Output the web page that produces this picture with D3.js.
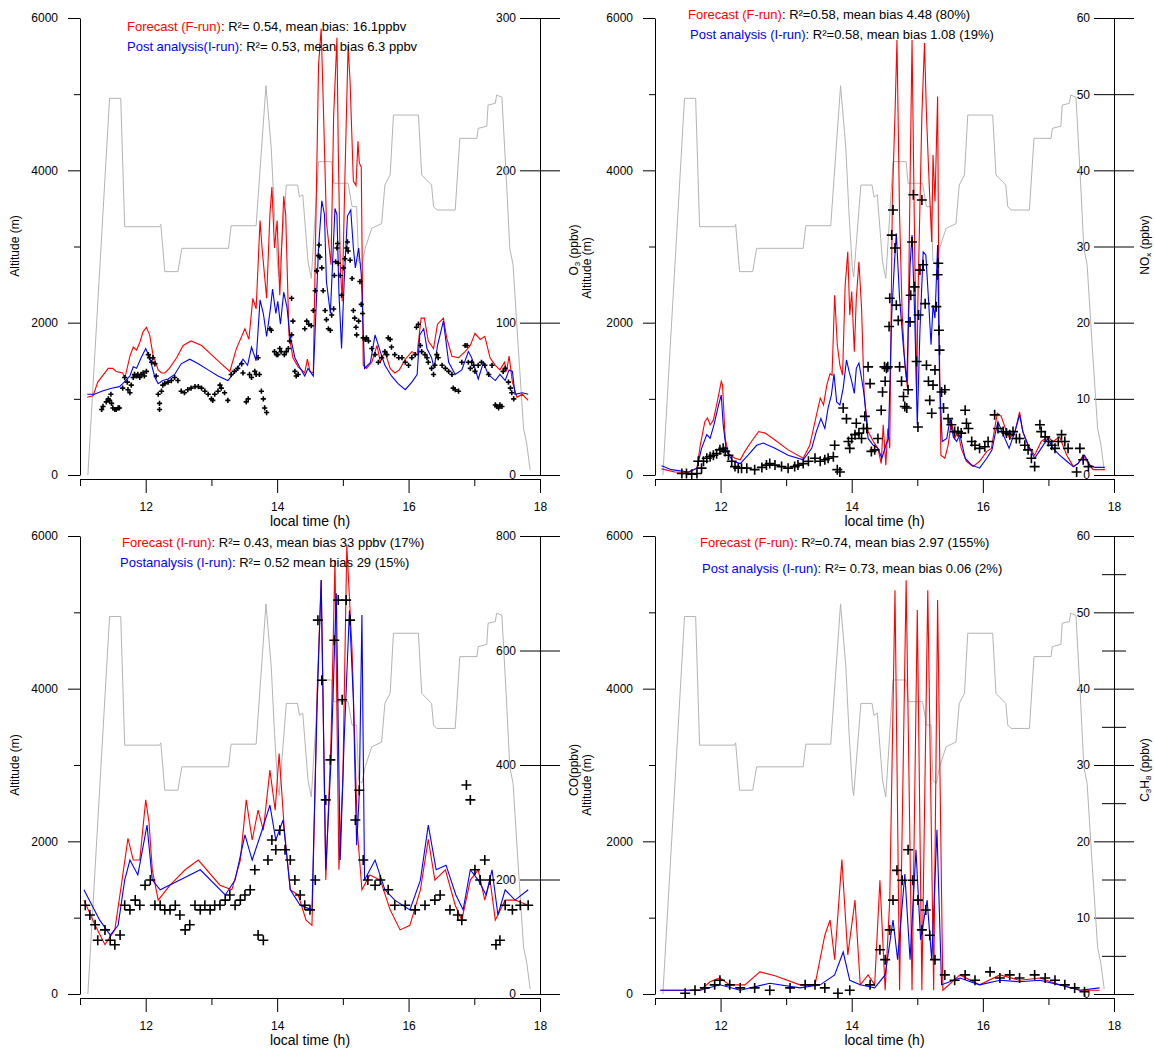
<!DOCTYPE html>
<html>
<head>
<meta charset="utf-8">
<script src="https://cdn.jsdelivr.net/npm/d3@7/dist/d3.min.js"></script>
<style>
  html, body { margin: 0; padding: 0; background: #fff; }
  svg { display: block; font-family: "Liberation Sans", Arial, sans-serif; }
  .tick text { font-size: 12px; fill: #000; }
</style>
</head>
<body>
<svg id="chart" width="1154" height="1051"></svg>
<script>
// Flight altitude profile (local time h, altitude m) shared by all four panels
const altitude = [[11.12,0],[11.45,4945],[11.62,4945],[11.68,3260],[12.21,3260],[12.23,3290],[12.29,2670],[12.49,2670],[12.55,2976],[13.26,2976],[13.30,3273],[13.68,3273],[13.83,5111],[13.91,4293],[13.96,3413],[14.01,2717],[14.03,2600],[14.14,3807],[14.31,3807],[14.34,3650],[14.39,3680],[14.47,2800],[14.52,2582],[14.63,4114],[14.83,4114],[14.86,3830],[15.08,3830],[15.14,3523],[15.21,3523],[15.24,2800],[15.29,2760],[15.34,2976],[15.44,3239],[15.59,3300],[15.64,3807],[15.72,3940],[15.77,4726],[16.15,4726],[16.20,3939],[16.35,3807],[16.38,3523],[16.43,3479],[16.71,3479],[16.78,4420],[17.04,4420],[17.06,4551],[17.19,4580],[17.21,4857],[17.32,4880],[17.34,4989],[17.42,4960],[17.49,3851],[17.54,2976],[17.59,2760],[17.67,1663],[17.75,613],[17.80,400],[17.85,66]];

// O3 (ppbv)
const o3Forecast = [[11.11,51],[11.20,52],[11.27,61],[11.43,70],[11.50,70],[11.55,68],[11.65,67],[11.68,63],[11.76,78],[11.81,84],[11.86,82],[11.91,87],[11.96,94],[12.01,97],[12.06,92],[12.11,79],[12.19,69],[12.24,67],[12.29,67],[12.36,70],[12.47,77],[12.57,85],[12.69,88],[12.85,85],[13.00,79],[13.15,73],[13.28,68],[13.38,83],[13.51,96],[13.57,89],[13.63,116],[13.68,109],[13.74,167],[13.77,149],[13.84,116],[13.89,171],[13.92,189],[13.96,149],[14.00,167],[14.04,118],[14.10,183],[14.13,171],[14.18,92],[14.24,77],[14.32,71],[14.42,67],[14.46,76],[14.50,68],[14.55,67],[14.63,269],[14.67,293],[14.70,247],[14.75,166],[14.82,138],[14.86,236],[14.91,287],[14.93,214],[14.96,138],[14.99,114],[15.03,193],[15.08,282],[15.11,258],[15.16,193],[15.20,190],[15.23,219],[15.25,205],[15.28,202],[15.31,72],[15.36,70],[15.44,74],[15.52,85],[15.57,74],[15.64,81],[15.72,70],[15.79,67],[15.86,69],[15.95,76],[16.05,81],[16.13,79],[16.19,103],[16.24,103],[16.30,88],[16.38,83],[16.44,99],[16.53,103],[16.58,90],[16.66,78],[16.76,77],[16.86,81],[16.94,85],[17.01,93],[17.09,89],[17.16,91],[17.24,77],[17.32,72],[17.39,69],[17.46,74],[17.49,68],[17.53,78],[17.58,61],[17.65,51],[17.73,53],[17.82,49]];
const o3Analysis = [[11.11,53],[11.22,53],[11.33,55],[11.48,57],[11.60,58],[11.65,60],[11.76,65],[11.81,71],[11.86,70],[11.93,77],[12.00,83],[12.06,77],[12.14,64],[12.19,60],[12.26,62],[12.34,63],[12.44,66],[12.54,73],[12.67,76],[12.80,73],[12.95,69],[13.10,65],[13.25,62],[13.38,69],[13.48,76],[13.55,72],[13.61,84],[13.68,75],[13.74,115],[13.79,106],[13.84,91],[13.90,110],[13.93,122],[13.98,106],[14.01,114],[14.05,99],[14.10,120],[14.15,110],[14.19,93],[14.27,77],[14.34,71],[14.42,65],[14.47,70],[14.55,65],[14.63,149],[14.68,180],[14.72,171],[14.75,127],[14.81,106],[14.88,175],[14.91,171],[14.94,120],[14.98,83],[15.02,127],[15.07,170],[15.12,174],[15.16,149],[15.19,136],[15.24,149],[15.28,132],[15.33,70],[15.42,74],[15.49,92],[15.57,81],[15.64,72],[15.74,65],[15.84,60],[15.95,56],[16.05,61],[16.13,66],[16.17,92],[16.23,96],[16.28,83],[16.35,77],[16.39,70],[16.44,85],[16.53,101],[16.61,74],[16.71,66],[16.81,69],[16.91,81],[16.96,77],[17.06,63],[17.14,74],[17.21,66],[17.32,62],[17.39,66],[17.47,62],[17.53,69],[17.58,68],[17.62,53],[17.73,54],[17.82,53]];
const o3Observed = [[11.33,43],[11.35,45],[11.40,48],[11.43,50],[11.45,49],[11.47,53],[11.48,47],[11.50,44],[11.53,43],[11.55,43],[11.58,44],[11.60,44],[11.65,57],[11.68,64],[11.72,61],[11.73,56],[11.76,54],[11.78,59],[11.81,64],[11.83,66],[11.86,65],[11.88,66],[11.91,64],[11.93,66],[11.96,67],[11.98,65],[12.01,68],[12.04,79],[12.06,77],[12.09,74],[12.11,77],[12.14,73],[12.16,65],[12.19,53],[12.21,47],[12.21,43],[12.24,55],[12.26,59],[12.29,60],[12.34,61],[12.39,62],[12.44,64],[12.49,62],[12.54,55],[12.59,54],[12.64,56],[12.69,57],[12.75,58],[12.80,58],[12.85,57],[12.90,55],[12.95,53],[13.00,50],[13.02,49],[13.05,53],[13.10,55],[13.13,59],[13.15,57],[13.20,54],[13.25,49],[13.30,66],[13.35,68],[13.40,70],[13.46,73],[13.48,67],[13.53,48],[13.56,50],[13.58,66],[13.61,64],[13.66,68],[13.68,66],[13.71,77],[13.73,66],[13.76,55],[13.79,50],[13.81,44],[13.84,41],[13.89,96],[13.91,95],[13.96,81],[13.99,79],[14.01,79],[14.04,83],[14.06,81],[14.11,79],[14.14,81],[14.17,83],[14.19,88],[14.22,92],[14.22,116],[14.24,101],[14.27,68],[14.29,65],[14.32,66],[14.42,96],[14.45,101],[14.48,99],[14.52,98],[14.55,108],[14.58,121],[14.60,134],[14.63,144],[14.64,151],[14.65,143],[14.68,136],[14.70,121],[14.73,108],[14.75,102],[14.78,96],[14.81,95],[14.83,105],[14.86,109],[14.87,131],[14.89,140],[14.91,149],[14.92,152],[14.93,139],[14.96,131],[14.98,118],[15.01,136],[15.03,142],[15.06,149],[15.07,153],[15.08,147],[15.11,141],[15.14,129],[15.16,108],[15.18,103],[15.20,97],[15.21,92],[15.24,101],[15.26,127],[15.28,112],[15.30,106],[15.31,90],[15.34,89],[15.36,90],[15.39,88],[15.44,83],[15.49,79],[15.54,74],[15.59,77],[15.64,81],[15.67,79],[15.69,90],[15.72,89],[15.74,84],[15.79,79],[15.85,77],[15.90,77],[15.95,74],[16.00,72],[16.05,77],[16.10,79],[16.12,97],[16.15,99],[16.18,85],[16.20,81],[16.25,79],[16.28,77],[16.30,74],[16.35,70],[16.38,66],[16.40,72],[16.43,79],[16.45,77],[16.51,72],[16.56,70],[16.61,68],[16.66,66],[16.68,57],[16.71,56],[16.76,55],[16.81,74],[16.86,85],[16.89,85],[16.91,74],[16.94,70],[16.96,74],[16.99,72],[17.01,68],[17.06,72],[17.11,74],[17.16,72],[17.22,66],[17.27,72],[17.32,46],[17.34,45],[17.37,44],[17.39,46],[17.42,45],[17.44,68],[17.47,70],[17.52,61],[17.55,57],[17.57,54],[17.60,50]];

// NOx (ppbv)
const noxForecast = [[11.10,0.8],[11.30,0.4],[11.51,0.35],[11.64,0.9],[11.69,3.9],[11.76,7.0],[11.80,7.5],[11.84,6.6],[11.89,7.2],[11.94,9.2],[11.98,10.9],[12.01,12.3],[12.03,11.8],[12.07,4.8],[12.12,2.8],[12.22,2.2],[12.30,2.0],[12.37,3.1],[12.47,4.4],[12.58,5.7],[12.68,5.5],[12.83,4.6],[13.03,3.3],[13.26,2.2],[13.36,3.9],[13.44,7.0],[13.52,10.1],[13.57,9.2],[13.62,11.8],[13.67,13.3],[13.70,13.1],[13.74,23.6],[13.78,17.1],[13.82,14.4],[13.86,13.1],[13.90,24.9],[13.94,29.3],[13.97,21.0],[14.00,24.1],[14.04,16.2],[14.07,23.2],[14.11,28.0],[14.15,21.9],[14.19,10.5],[14.25,5.7],[14.33,4.4],[14.40,3.5],[14.45,1.5],[14.48,6.6],[14.52,1.3],[14.55,6.1],[14.58,3.5],[14.62,36.3],[14.66,47.3],[14.69,57.1],[14.73,34.1],[14.77,21.0],[14.81,14.4],[14.85,11.4],[14.89,38.5],[14.92,57.1],[14.95,36.3],[14.99,10.5],[15.01,23.2],[15.07,47.3],[15.11,56.7],[15.14,47.3],[15.18,38.5],[15.22,30.6],[15.24,42.0],[15.27,35.9],[15.31,49.7],[15.33,21.0],[15.36,2.6],[15.42,2.2],[15.47,3.9],[15.52,7.0],[15.57,4.8],[15.62,5.7],[15.67,3.5],[15.75,1.8],[15.85,1.1],[15.95,1.8],[16.06,3.1],[16.13,3.5],[16.18,6.1],[16.22,8.1],[16.28,7.7],[16.36,5.7],[16.41,4.8],[16.49,5.7],[16.56,8.3],[16.61,5.7],[16.69,3.9],[16.79,2.6],[16.89,4.4],[16.99,5.0],[17.07,4.4],[17.17,5.0],[17.28,2.6],[17.38,1.1],[17.45,1.5],[17.53,2.6],[17.61,1.5],[17.68,0.7],[17.86,0.7]];
const noxAnalysis = [[11.10,1.2],[11.25,0.7],[11.51,0.4],[11.64,0.9],[11.71,3.5],[11.79,5.3],[11.84,4.8],[11.90,6.6],[11.97,9.2],[12.01,10.5],[12.04,6.6],[12.09,3.1],[12.19,1.8],[12.30,1.5],[12.42,2.6],[12.55,3.9],[12.65,4.2],[12.83,3.5],[13.03,2.6],[13.26,2.0],[13.39,3.5],[13.46,5.7],[13.53,7.4],[13.59,6.1],[13.64,8.8],[13.69,10.5],[13.73,13.3],[13.77,9.6],[13.82,9.2],[13.87,11.4],[13.92,15.1],[13.96,13.6],[14.00,12.3],[14.04,10.7],[14.07,14.0],[14.11,14.7],[14.15,12.7],[14.19,10.5],[14.25,4.8],[14.33,3.9],[14.40,3.5],[14.46,2.2],[14.52,3.9],[14.56,4.8],[14.61,21.0],[14.65,27.6],[14.68,31.7],[14.73,23.2],[14.79,16.6],[14.84,12.3],[14.89,27.6],[14.92,31.5],[14.96,21.0],[15.00,6.6],[15.04,18.8],[15.09,29.3],[15.13,28.9],[15.17,23.2],[15.21,17.1],[15.24,22.3],[15.27,20.6],[15.31,30.2],[15.34,12.3],[15.38,4.4],[15.45,4.8],[15.50,7.4],[15.55,5.0],[15.60,4.4],[15.65,5.3],[15.73,2.2],[15.83,1.3],[15.95,0.9],[16.06,2.2],[16.14,3.3],[16.19,5.5],[16.23,7.0],[16.31,5.3],[16.40,3.5],[16.49,5.7],[16.56,7.9],[16.61,5.7],[16.69,3.9],[16.79,2.2],[16.89,3.5],[16.99,4.8],[17.07,3.5],[17.17,2.6],[17.28,1.8],[17.38,1.1],[17.45,1.5],[17.55,2.6],[17.63,1.3],[17.71,1.0],[17.86,1.0]];
const noxObserved = [[11.41,0.2],[11.48,0.2],[11.56,0.1],[11.64,0.2],[11.66,1.8],[11.71,0.9],[11.74,1.8],[11.79,2.2],[11.84,2.4],[11.89,2.6],[11.94,2.8],[11.99,3.3],[12.04,3.5],[12.07,3.1],[12.12,2.6],[12.17,1.8],[12.22,1.1],[12.27,0.9],[12.32,0.9],[12.40,0.9],[12.52,0.7],[12.63,1.0],[12.70,1.3],[12.75,1.5],[12.83,1.3],[12.93,1.1],[13.03,0.9],[13.13,1.1],[13.18,1.3],[13.26,1.5],[13.34,1.8],[13.44,2.2],[13.52,1.8],[13.59,2.0],[13.64,2.2],[13.72,2.4],[13.74,3.9],[13.78,0.7],[13.82,0.4],[13.87,8.8],[13.92,7.4],[13.95,4.4],[13.97,3.5],[14.00,4.8],[14.05,5.3],[14.07,6.8],[14.11,5.5],[14.15,4.8],[14.18,6.1],[14.20,7.7],[14.23,6.1],[14.25,14.2],[14.28,12.0],[14.30,3.1],[14.35,3.3],[14.40,4.8],[14.45,8.5],[14.47,10.9],[14.50,14.2],[14.51,12.3],[14.53,14.0],[14.55,14.2],[14.57,19.5],[14.58,23.2],[14.61,31.5],[14.63,34.8],[14.66,29.8],[14.68,22.3],[14.71,20.3],[14.73,14.2],[14.76,12.3],[14.79,10.3],[14.81,9.0],[14.84,8.8],[14.86,11.2],[14.89,20.1],[14.90,23.6],[14.92,30.6],[14.94,36.8],[14.96,24.7],[14.99,14.9],[15.01,6.3],[15.02,21.0],[15.04,26.9],[15.07,36.1],[15.09,27.6],[15.12,22.5],[15.14,14.4],[15.17,12.3],[15.19,9.8],[15.22,8.1],[15.24,11.8],[15.27,13.8],[15.29,22.1],[15.31,26.3],[15.32,27.8],[15.33,19.0],[15.34,16.4],[15.37,10.9],[15.40,8.8],[15.42,11.2],[15.47,7.4],[15.52,6.6],[15.57,5.7],[15.62,5.7],[15.67,5.5],[15.73,8.5],[15.75,6.8],[15.78,6.1],[15.83,4.4],[15.88,3.9],[15.95,3.5],[16.03,3.7],[16.08,4.4],[16.18,7.9],[16.23,6.1],[16.31,5.7],[16.36,5.5],[16.41,5.3],[16.46,5.7],[16.51,4.8],[16.56,4.8],[16.64,3.9],[16.69,3.3],[16.74,2.2],[16.79,1.1],[16.87,6.6],[16.89,5.7],[16.95,5.0],[17.00,4.4],[17.05,3.9],[17.10,3.5],[17.15,4.4],[17.20,5.3],[17.25,4.4],[17.30,3.5],[17.43,0.4],[17.48,3.5],[17.53,2.0],[17.61,1.1]];

// CO (ppbv)
const coForecast = [[11.06,164],[11.23,120],[11.38,86],[11.53,112],[11.64,199],[11.73,272],[11.81,234],[11.91,234],[12.00,339],[12.05,300],[12.10,217],[12.19,164],[12.37,190],[12.60,217],[12.80,234],[13.13,190],[13.31,182],[13.44,234],[13.53,339],[13.62,269],[13.71,321],[13.79,286],[13.89,391],[13.97,321],[14.03,420],[14.11,286],[14.20,182],[14.32,173],[14.44,129],[14.53,120],[14.61,531],[14.67,723],[14.74,199],[14.82,444],[14.88,758],[14.94,217],[15.00,374],[15.06,784],[15.14,601],[15.22,286],[15.29,182],[15.41,208],[15.57,199],[15.72,147],[15.87,112],[16.02,120],[16.18,182],[16.30,270],[16.40,199],[16.56,217],[16.71,155],[16.81,129],[16.94,199],[17.06,217],[17.16,164],[17.24,199],[17.32,129],[17.47,164],[17.62,164],[17.82,155]];
const coAnalysis = [[11.06,182],[11.30,129],[11.46,103],[11.58,120],[11.68,199],[11.76,234],[11.88,208],[12.02,295],[12.10,199],[12.22,182],[12.52,199],[12.83,217],[13.21,173],[13.36,199],[13.51,278],[13.62,234],[13.77,286],[13.89,330],[13.98,269],[14.09,304],[14.20,182],[14.35,155],[14.53,147],[14.61,514],[14.67,723],[14.74,217],[14.82,409],[14.90,700],[14.96,234],[15.02,444],[15.10,670],[15.16,514],[15.21,260],[15.25,350],[15.29,662],[15.33,199],[15.49,234],[15.64,182],[15.79,164],[16.02,147],[16.18,199],[16.30,295],[16.42,217],[16.57,225],[16.72,173],[16.83,147],[16.94,217],[17.06,199],[17.18,173],[17.27,217],[17.36,138],[17.47,182],[17.62,164],[17.82,182]];
const coObserved = [[11.08,155],[11.15,138],[11.23,121],[11.27,94],[11.38,112],[11.46,94],[11.53,86],[11.61,103],[11.68,155],[11.76,147],[11.84,164],[11.91,155],[11.99,190],[12.07,199],[12.14,155],[12.22,155],[12.29,147],[12.37,147],[12.45,155],[12.52,138],[12.60,112],[12.67,121],[12.75,155],[12.83,147],[12.90,155],[12.98,147],[13.05,155],[13.13,155],[13.21,164],[13.28,173],[13.36,155],[13.44,164],[13.51,173],[13.59,182],[13.66,217],[13.71,103],[13.79,94],[13.86,234],[13.92,269],[13.98,252],[14.04,286],[14.12,252],[14.20,234],[14.27,199],[14.35,173],[14.42,155],[14.50,147],[14.58,199],[14.62,653],[14.68,548],[14.74,339],[14.81,409],[14.87,618],[14.93,688],[14.99,514],[15.05,688],[15.11,653],[15.19,304],[15.25,356],[15.31,234],[15.38,199],[15.49,190],[15.57,199],[15.69,182],[15.79,155],[15.95,155],[16.10,147],[16.25,155],[16.40,164],[16.48,173],[16.63,147],[16.75,138],[16.81,129],[16.88,365],[16.94,339],[17.01,217],[17.09,199],[17.16,234],[17.24,199],[17.33,86],[17.39,94],[17.47,155],[17.58,147],[17.70,155],[17.82,155]];

// C3H8 (ppbv)
const c3h8Forecast = [[11.08,0.5],[11.69,0.5],[11.84,1.6],[11.99,2.1],[12.14,1.2],[12.37,1.2],[12.60,2.9],[12.83,2.4],[13.21,1.2],[13.44,1.2],[13.59,7.7],[13.67,9.7],[13.74,4.5],[13.85,17.6],[13.94,5.1],[14.05,12.3],[14.13,1.2],[14.25,2.5],[14.35,1.2],[14.43,14.9],[14.51,0.5],[14.58,12.3],[14.66,52.9],[14.73,0.5],[14.83,54.2],[14.92,0.5],[15.00,50.3],[15.07,0.5],[15.16,52.9],[15.25,0.5],[15.31,51.6],[15.39,0.5],[15.65,2.5],[15.95,1.2],[16.26,2.5],[16.56,1.8],[16.87,2.1],[17.17,1.2],[17.48,0.5],[17.78,0.5]];
const c3h8Analysis = [[11.08,0.5],[11.69,0.5],[11.99,1.2],[12.30,0.5],[12.75,1.4],[13.21,0.8],[13.52,1.2],[13.74,2.5],[13.87,5.5],[13.97,1.8],[14.13,1.2],[14.35,0.8],[14.51,2.5],[14.63,9.7],[14.70,4.5],[14.81,15.7],[14.89,4.5],[14.98,18.9],[15.05,7.1],[15.15,12.3],[15.22,4.5],[15.30,21.5],[15.37,1.2],[15.65,2.1],[15.95,1.2],[16.26,1.8],[16.56,1.6],[16.87,1.8],[17.17,1.2],[17.48,0.5],[17.78,0.8]];
const c3h8Observed = [[11.46,0.1],[11.61,0.5],[11.76,0.8],[11.91,1.2],[11.99,1.8],[12.14,1.2],[12.30,0.8],[12.52,0.8],[12.75,0.5],[13.06,0.8],[13.29,1.2],[13.44,1.2],[13.59,0.8],[13.79,0.1],[13.97,0.5],[14.28,1.2],[14.43,5.8],[14.51,4.5],[14.58,8.4],[14.63,12.3],[14.69,16.2],[14.77,14.9],[14.86,18.9],[14.93,14.9],[15.01,12.3],[15.07,8.4],[15.13,11.0],[15.19,7.7],[15.27,4.5],[15.42,2.5],[15.57,1.8],[15.73,2.5],[15.88,1.8],[16.11,2.9],[16.26,2.1],[16.41,2.5],[16.56,2.1],[16.79,2.5],[16.95,2.1],[17.10,1.8],[17.25,1.2],[17.40,0.8],[17.55,0.3]];

// Axis ticks
const timeMajor = [12, 14, 16, 18];
const timeMinor = [11, 13, 15, 17];
const altMajor = [0, 2000, 4000, 6000];
const altMinor = [1000, 3000, 5000];

const svg = d3.select("#chart");
const fmt = d3.format("d");

function drawPanel(p) {
  const x = d3.scaleLinear().domain([11, 18]).range([p.left, p.right]);
  const yAlt = d3.scaleLinear().domain([0, 6000]).range([p.bottom, p.top]);
  const yVal = d3.scaleLinear().domain([0, p.max]).range([p.bottom, p.top]);
  const g = svg.append("g");

  // left altitude axis
  g.append("g").attr("transform", `translate(${p.left},0)`)
    .call(d3.axisLeft(yAlt).tickValues(altMajor).tickFormat(fmt).tickSize(12).tickPadding(10).tickSizeOuter(0));
  g.append("g").attr("transform", `translate(${p.left},0)`)
    .call(d3.axisLeft(yAlt).tickValues(altMinor).tickSize(6).tickFormat("").tickSizeOuter(0))
    .select(".domain").remove();

  // right concentration axis: ticks cross the line, labels inside
  const ra = g.append("g").attr("transform", `translate(${p.right},0)`)
    .call(d3.axisLeft(yVal).tickValues(p.ticks).tickFormat(fmt).tickSize(20).tickPadding(4).tickSizeOuter(0));
  ra.selectAll(".tick line").attr("x1", 20);
  if (p.minorTicks) {
    const rm = g.append("g").attr("transform", `translate(${p.right},0)`)
      .call(d3.axisLeft(yVal).tickValues(p.minorTicks).tickSize(12).tickFormat("").tickSizeOuter(0));
    rm.select(".domain").remove();
    rm.selectAll(".tick line").attr("x1", 12);
  }

  // time axis
  const xb = p.bottom + 4;
  g.append("g").attr("transform", `translate(0,${xb})`)
    .call(d3.axisBottom(x).tickValues(timeMajor).tickFormat(fmt).tickSize(14).tickPadding(9).tickSizeOuter(0));
  g.append("g").attr("transform", `translate(0,${xb})`)
    .call(d3.axisBottom(x).tickValues(timeMinor).tickSize(7).tickFormat("").tickSizeOuter(0))
    .select(".domain").remove();
  g.selectAll(".domain, .tick line").attr("stroke", "#000");

  g.append("text").attr("x", (p.left + p.right) / 2).attr("y", xb + 47)
    .attr("text-anchor", "middle").attr("font-size", 14).text("local time (h)");

  // flight altitude
  const lineAlt = d3.line().x(d => x(d[0])).y(d => yAlt(d[1]));
  g.append("path").datum(altitude).attr("d", lineAlt)
    .attr("fill", "none").attr("stroke", "#b4b4b4").attr("stroke-width", 1);

  const lineVal = d3.line().x(d => x(d[0])).y(d => yVal(d[1]));
  g.append("path").datum(p.forecast).attr("d", lineVal)
    .attr("fill", "none").attr("stroke", "#ff0000").attr("stroke-width", 1.1);
  g.append("path").datum(p.analysis).attr("d", lineVal)
    .attr("fill", "none").attr("stroke", "#0000ff").attr("stroke-width", 1.1);

  const s = p.cross;
  g.append("g").selectAll("path").data(p.observed).join("path")
    .attr("d", d => `M${x(d[0]) - s},${yVal(d[1])}h${2 * s}M${x(d[0])},${yVal(d[1]) - s}v${2 * s}`)
    .attr("stroke", "#000").attr("stroke-width", p.crossWidth).attr("fill", "none");

  // statistics text
  p.legend.forEach(l => {
    const t = g.append("text").attr("x", l.x).attr("y", l.y).attr("font-size", 13);
    t.append("tspan").attr("fill", l.color).text(l.name);
    t.append("tspan").attr("fill", "#000").text(l.stats);
  });

  // axis titles
  p.titles.forEach(tt => {
    const t = svg.append("text").attr("transform", `translate(${tt.x},${tt.y}) rotate(-90)`)
      .attr("text-anchor", "middle").attr("font-size", 12);
    tt.parts.forEach(part => {
      const sp = t.append("tspan").text(part.t);
      if (part.sub) sp.attr("font-size", 8).attr("dy", 2);
      if (part.up) sp.attr("dy", -2);
    });
  });
}

drawPanel({
  left: 80, right: 540, top: 18, bottom: 475, max: 300, ticks: [0, 100, 200, 300],
  forecast: o3Forecast, analysis: o3Analysis, observed: o3Observed, cross: 2.6, crossWidth: 1.6,
  legend: [
    { x: 127, y: 31, color: "#ff0000", name: "Forecast (F-run)", stats: ": R\u00b2= 0.54, mean  bias: 16.1ppbv" },
    { x: 127, y: 51, color: "#0000ff", name: "Post analysis(I-run)", stats: ": R\u00b2= 0.53, mean bias 6.3 ppbv" }
  ],
  titles: [{ x: 19, y: 246, parts: [{ t: "Altitude (m)" }] }]
});

drawPanel({
  left: 655, right: 1114, top: 18, bottom: 475, max: 60, ticks: [0, 10, 20, 30, 40, 50, 60],
  forecast: noxForecast, analysis: noxAnalysis, observed: noxObserved, cross: 5, crossWidth: 1.6,
  legend: [
    { x: 688, y: 19, color: "#ff0000", name: "Forecast (F-run)", stats: ": R\u00b2=0.58, mean bias 4.48 (80%)" },
    { x: 690, y: 39, color: "#0000ff", name: "Post analysis (I-run)", stats: ": R\u00b2=0.58, mean bias 1.08 (19%)" }
  ],
  titles: [
    { x: 578, y: 250, parts: [{ t: "O" }, { t: "3", sub: true }, { t: " (ppbv)", up: true }] },
    { x: 591, y: 268, parts: [{ t: "Altitude (m)" }] },
    { x: 1149, y: 245, parts: [{ t: "NO" }, { t: "x", sub: true }, { t: " (ppbv)", up: true }] }
  ]
});

drawPanel({
  left: 80, right: 540, top: 536, bottom: 994, max: 800, ticks: [0, 200, 400, 600, 800],
  forecast: coForecast, analysis: coAnalysis, observed: coObserved, cross: 5, crossWidth: 1.6,
  legend: [
    { x: 122, y: 547, color: "#ff0000", name: "Forecast (I-run)", stats: ": R\u00b2=  0.43, mean bias 33 ppbv (17%)" },
    { x: 120, y: 567, color: "#0000ff", name: "Postanalysis (I-run)", stats: ": R\u00b2=  0.52 mean bias 29 (15%)" }
  ],
  titles: [{ x: 19, y: 765, parts: [{ t: "Altitude (m)" }] }]
});

drawPanel({
  left: 655, right: 1114, top: 536, bottom: 994, max: 60, ticks: [0, 10, 20, 30, 40, 50, 60],
  minorTicks: [5, 15, 25, 35, 45, 55],
  forecast: c3h8Forecast, analysis: c3h8Analysis, observed: c3h8Observed, cross: 5, crossWidth: 1.6,
  legend: [
    { x: 700, y: 547, color: "#ff0000", name: "Forecast (F-run)", stats: ": R\u00b2=0.74, mean bias 2.97 (155%)" },
    { x: 702, y: 573, color: "#0000ff", name: "Post analysis (I-run)", stats: ": R\u00b2= 0.73, mean bias 0.06 (2%)" }
  ],
  titles: [
    { x: 578, y: 770, parts: [{ t: "CO(ppbv)" }] },
    { x: 591, y: 785, parts: [{ t: "Altitude (m)" }] },
    { x: 1149, y: 770, parts: [{ t: "C" }, { t: "3", sub: true }, { t: "H", up: true }, { t: "8", sub: true }, { t: " (ppbv)", up: true }] }
  ]
});
</script>
</body>
</html>
